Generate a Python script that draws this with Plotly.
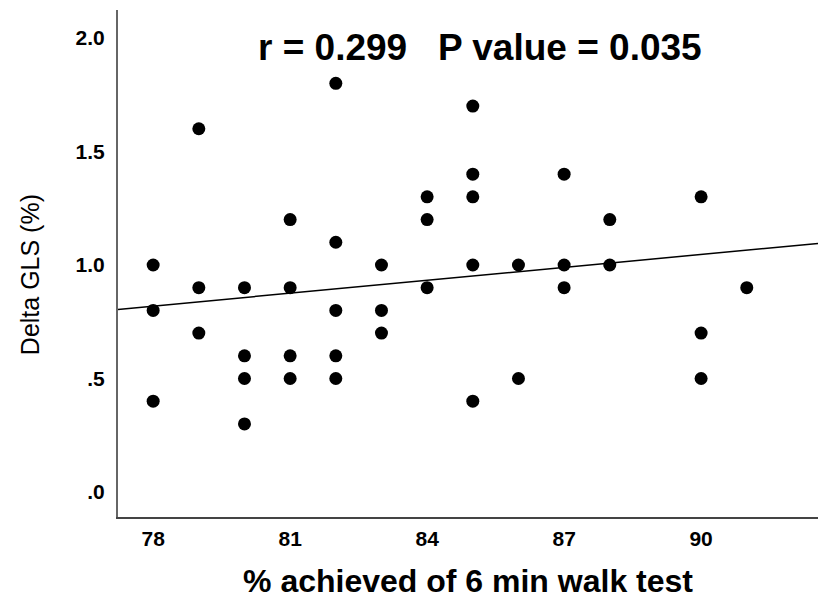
import numpy as np
import plotly.graph_objects as go

# Data
walk_pct = [78, 78, 78,
            79, 79, 79,
            80, 80, 80, 80,
            81, 81, 81, 81,
            82, 82, 82, 82, 82,
            83, 83, 83,
            84, 84, 84,
            85, 85, 85, 85, 85,
            86, 86,
            87, 87, 87,
            88, 88,
            90, 90, 90,
            91]
delta_gls = [1.0, 0.8, 0.4,
             1.6, 0.9, 0.7,
             0.9, 0.6, 0.5, 0.3,
             1.2, 0.9, 0.6, 0.5,
             1.8, 1.1, 0.8, 0.6, 0.5,
             1.0, 0.8, 0.7,
             1.3, 1.2, 0.9,
             1.7, 1.4, 1.3, 1.0, 0.4,
             1.0, 0.5,
             1.4, 1.0, 0.9,
             1.2, 1.0,
             1.3, 0.7, 0.5,
             0.9]
x_ticks = [78, 81, 84, 87, 90]
y_ticks = [0.0, 0.5, 1.0, 1.5, 2.0]
y_ticktext = [".0", ".5", "1.0", "1.5", "2.0"]
stats_text = "r = 0.299   P value = 0.035"
x_title = "% achieved of 6 min walk test"
y_title = "Delta GLS (%)"

x_range = [77.23, 92.56]
y_range = [-0.11, 2.123]

slope, intercept = np.polyfit(walk_pct, delta_gls, 1)
fit_x = np.array(x_range)
fit_y = slope * fit_x + intercept

fig = go.Figure()
fig.add_trace(go.Scatter(x=fit_x, y=fit_y, mode="lines",
                         line=dict(color="black", width=1.5),
                         hoverinfo="skip", showlegend=False))
fig.add_trace(go.Scatter(x=walk_pct, y=delta_gls, mode="markers",
                         marker=dict(color="black", size=13, line=dict(width=0)),
                         showlegend=False))

fig.add_annotation(text=stats_text, xref="paper", yref="paper",
                   x=0.517, y=0.927, xanchor="center", yanchor="middle",
                   showarrow=False,
                   font=dict(family="Liberation Sans, Arial, sans-serif", size=37,
                             color="black", weight="bold"))
fig.add_annotation(text=y_title, xref="paper", yref="paper",
                   x=-0.1257, y=0.477, xanchor="center", yanchor="middle",
                   textangle=-90, showarrow=False,
                   font=dict(family="Liberation Sans Narrow, Arial Narrow, Liberation Sans, sans-serif",
                             size=25, color="black"))

fig.update_layout(
    width=818, height=603,
    margin=dict(l=118, r=0, t=10, b=86, autoexpand=False),
    paper_bgcolor="white", plot_bgcolor="white",
    font=dict(family="Liberation Sans, Arial, sans-serif", color="black"),
)
fig.update_xaxes(range=x_range, tickvals=x_ticks, showgrid=False, zeroline=False,
                 showline=True, linecolor="#444", linewidth=2, ticks="",
                 ticklabelstandoff=2, automargin=False,
                 tickfont=dict(size=21, weight="bold"),
                 title=dict(text=x_title,
                            font=dict(size=32, weight="bold"), standoff=20))
fig.update_yaxes(range=y_range, tickvals=y_ticks, ticktext=y_ticktext,
                 showgrid=False, zeroline=False,
                 showline=True, linecolor="#666", linewidth=2, ticks="",
                 ticklabelstandoff=7, automargin=False,
                 tickfont=dict(size=21, weight="bold"))

fig.write_html("out.html", config={"displayModeBar": False},
               post_script="document.body.style.margin='0';document.body.style.overflow='hidden';")
